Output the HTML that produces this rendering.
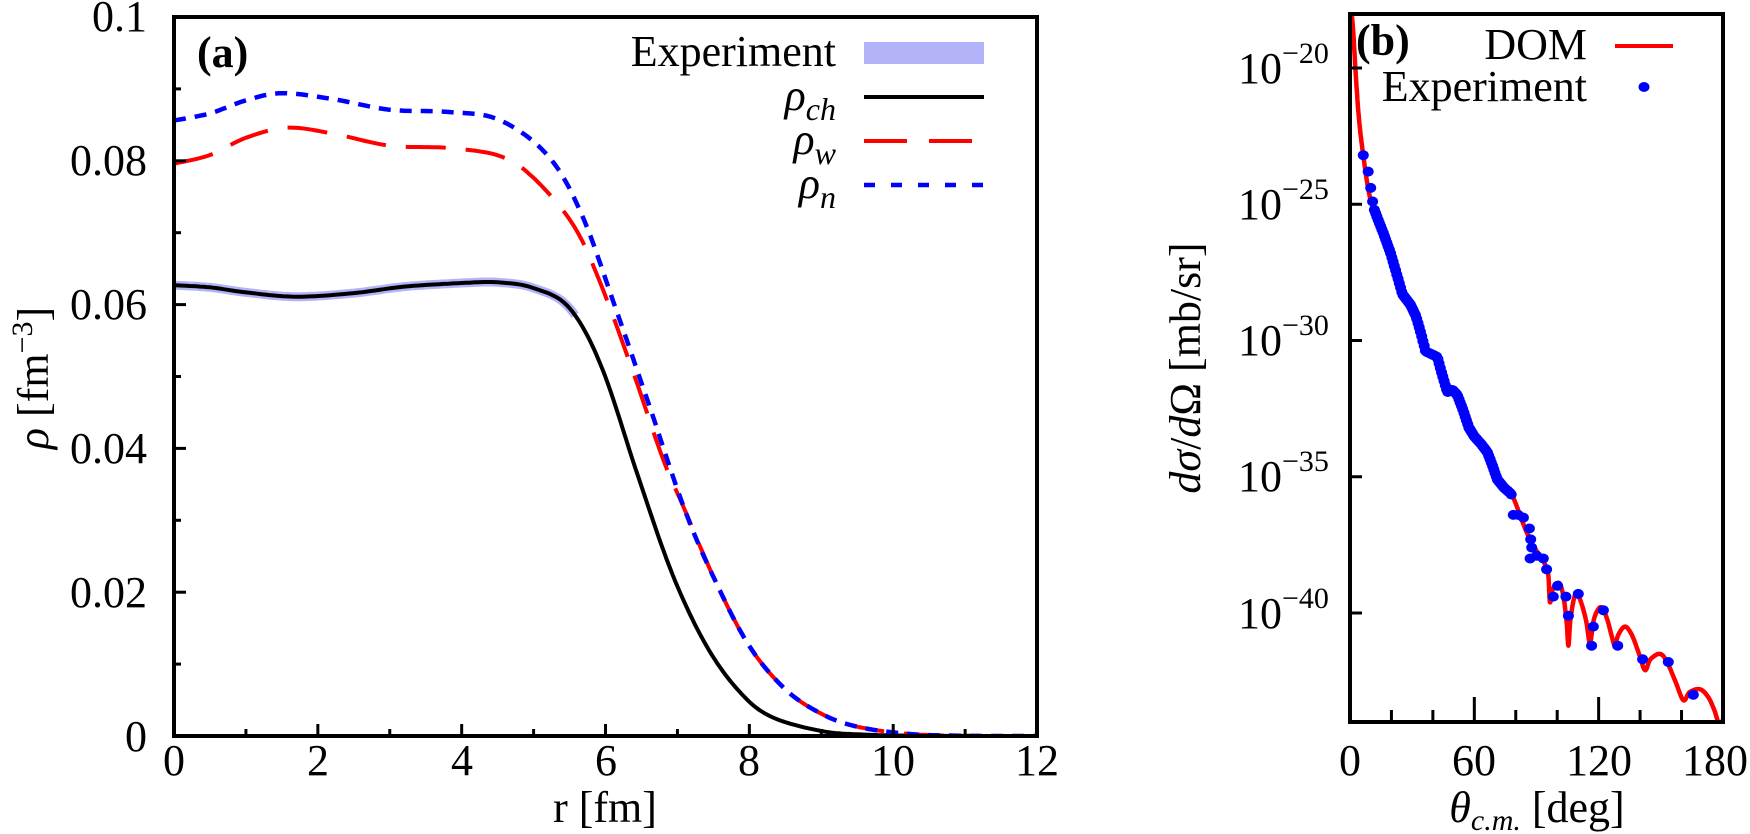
<!DOCTYPE html>
<html><head><meta charset="utf-8">
<style>
html,body{margin:0;padding:0;background:#fff;}
svg{display:block;}
text{font-family:"Liberation Serif","DejaVu Serif",serif;fill:#000;}
</style></head>
<body>
<svg id="s" width="1750" height="834" viewBox="0 0 1750 834" xmlns="http://www.w3.org/2000/svg">
<defs>
<clipPath id="ca"><rect x="174" y="17" width="863" height="719"/></clipPath>
<clipPath id="cb"><rect x="1350" y="14" width="373" height="708"/></clipPath>
</defs>
<g id="pa" clip-path="url(#ca)"></g>
<g id="pb" clip-path="url(#cb)"></g>
<g id="ticks" stroke="#000" stroke-width="3"></g>
<rect x="174" y="17" width="863" height="719" fill="none" stroke="#000" stroke-width="4"/>
<rect x="1350" y="14" width="373" height="708" fill="none" stroke="#000" stroke-width="4"/>

<g font-size="44" text-anchor="end">
<text x="147" y="31">0.1</text>
<text x="147" y="175">0.08</text>
<text x="147" y="319">0.06</text>
<text x="147" y="463">0.04</text>
<text x="147" y="607">0.02</text>
<text x="147" y="751">0</text>
</g>
<g font-size="44" text-anchor="middle">
<text x="174" y="775">0</text>
<text x="318" y="775">2</text>
<text x="462" y="775">4</text>
<text x="606" y="775">6</text>
<text x="749" y="775">8</text>
<text x="893" y="775">10</text>
<text x="1037" y="775">12</text>
<text x="605" y="822">r [fm]</text>
</g>
<text transform="translate(48,378) rotate(-90)" font-size="44" text-anchor="middle"><tspan font-style="italic">ρ</tspan> [fm<tspan font-size="30" dy="-16">−3</tspan><tspan dy="16">]</tspan></text>
<text x="197" y="67" font-size="44" font-weight="bold">(a)</text>
<g font-size="44" text-anchor="end">
<text x="836" y="66">Experiment</text>
<text x="836" y="110" font-style="italic">ρ<tspan font-size="32" dy="10">ch</tspan></text>
<text x="836" y="154" font-style="italic">ρ<tspan font-size="32" dy="10">w</tspan></text>
<text x="836" y="198" font-style="italic">ρ<tspan font-size="32" dy="10">n</tspan></text>
</g>
<rect x="864" y="42" width="120" height="22" fill="#b3b3fa"/>
<line x1="864" y1="97" x2="984" y2="97" stroke="#000" stroke-width="4"/>
<line x1="864" y1="141" x2="984" y2="141" stroke="#f00" stroke-width="4" stroke-dasharray="43,22"/>
<line x1="864" y1="185" x2="984" y2="185" stroke="#00f" stroke-width="4.5" stroke-dasharray="11,16"/>

<g font-size="44" text-anchor="start">
<text x="1238" y="83">10<tspan font-size="30" dy="-20">−20</tspan></text>
<text x="1238" y="219">10<tspan font-size="30" dy="-20">−25</tspan></text>
<text x="1238" y="355">10<tspan font-size="30" dy="-20">−30</tspan></text>
<text x="1238" y="491">10<tspan font-size="30" dy="-20">−35</tspan></text>
<text x="1238" y="628">10<tspan font-size="30" dy="-20">−40</tspan></text>
</g>
<g font-size="44" text-anchor="middle">
<text x="1350" y="775">0</text>
<text x="1474" y="775">60</text>
<text x="1599" y="775">120</text>
<text x="1748" y="775" text-anchor="end">180</text>
<text x="1537" y="822"><tspan font-style="italic">θ</tspan><tspan font-size="30" dy="8" font-style="italic">c.m.</tspan><tspan dy="-8"> [deg]</tspan></text>
</g>
<text transform="translate(1200,368) rotate(-90)" font-size="44" text-anchor="middle"><tspan font-style="italic">dσ</tspan>/<tspan font-style="italic">d</tspan>Ω [mb/sr]</text>
<text x="1356" y="55" font-size="44" font-weight="bold">(b)</text>
<text x="1587" y="59" font-size="44" text-anchor="end">DOM</text>
<text x="1587" y="101" font-size="44" text-anchor="end">Experiment</text>
<line x1="1615" y1="46" x2="1673" y2="46" stroke="#f00" stroke-width="4"/>
<ellipse cx="1644" cy="87" rx="5.5" ry="5" fill="#00f"/>
</svg>
<script>
(function(){
var NS="http://www.w3.org/2000/svg";
function el(p,t,a){var e=document.createElementNS(NS,t);for(var k in a)e.setAttribute(k,a[k]);p.appendChild(e);return e;}
function cr(pts,n){
 var out=[];
 for(var i=0;i<pts.length-1;i++){
  var p0=pts[Math.max(i-1,0)],p1=pts[i],p2=pts[i+1],p3=pts[Math.min(i+2,pts.length-1)];
  for(var j=0;j<n;j++){var t=j/n,t2=t*t,t3=t2*t;
   var f=function(a,b,c,d){return 0.5*((2*b)+(-a+c)*t+(2*a-5*b+4*c-d)*t2+(-a+3*b-3*c+d)*t3);};
   out.push([f(p0[0],p1[0],p2[0],p3[0]),f(p0[1],p1[1],p2[1],p3[1])]);}
 }
 out.push(pts[pts.length-1]);return out;}
function path(pts){return "M"+pts.map(function(p){return p[0].toFixed(1)+","+p[1].toFixed(1)}).join("L");}
var XA=function(r){return 174+r*71.92;}, YA=function(v){return 736-v*7190;};
function mapA(k){return k.map(function(p){return [XA(p[0]),YA(p[1])];});}
var ch=[[0,.0627],[0.5,.0624],[1,.0617],[1.7,.0611],[2.5,.0616],[3.2,.0625],[4,.063],[4.5,.0631],[5,.0623],[5.5,.0595],[5.95,.0512],[6.45,.0362],[6.93,.0225],[7.4,.0126],[7.86,.0062],[8.3,.0027],[9,.0007],[9.6,.0002],[10.5,.00003],[12,0]];
var w=[[0,.0796],[0.5,.0808],[1,.0832],[1.57,.0846],[2.2,.0838],[3,.0821],[3.8,.0818],[4.52,.0807],[4.98,.0778],[5.53,.0714],[5.9,.0637],[6.37,.0510],[6.8,.0385],[7.1,.0315],[7.53,.0215],[8,.0125],[8.5,.0065],[9,.0031],[9.5,.0013],[10.2,.0003],[11,.00003],[12,0]];
var n=[[0,.0856],[0.5,.0866],[1,.0884],[1.5,.0894],[2.2,.0886],[3,.0871],[3.8,.0868],[4.52,.0857],[5.2,.0807],[5.67,.0725],[6.14,.0595],[6.6,.0462],[7.1,.0315],[7.53,.0215],[8,.0125],[8.5,.0065],[9,.0031],[9.5,.0013],[10.2,.0003],[11,.00003],[12,0]];
var pa=document.getElementById("pa");
var chp=cr(mapA(ch),12);
el(pa,"path",{d:path(chp.filter(function(p){return p[0]<XA(5.6);})),fill:"none",stroke:"#b3b3fa","stroke-width":9});
el(pa,"path",{d:path(chp),fill:"none",stroke:"#000","stroke-width":4});
el(pa,"path",{d:path(cr(mapA(w),12)),fill:"none",stroke:"#f00","stroke-width":4,"stroke-dasharray":"40,20"});
el(pa,"path",{d:path(cr(mapA(n),12)),fill:"none",stroke:"#00f","stroke-width":4.5,"stroke-dasharray":"12,9"});
var XB=function(t){return 1350+t*2.072;}, YB=function(l){return 68-(l+20)*27.25;};
var dom=[[0.3,-17.9],[1.3,-18.4],[3,-20.5],[4.5,-22],[6.4,-23.2],[8.5,-24.3],[10.5,-25],[12.9,-25.5],[16,-26.1],[19.3,-26.8],[22,-27.5],[25,-28.3],[29,-28.7],[31.5,-29.1],[33.8,-29.7],[36.2,-30.4],[39,-30.5],[41.8,-30.6],[44,-31.2],[46.7,-31.9],[49,-31.8],[51.5,-32],[54,-32.5],[57.1,-33.2],[59.5,-33.5],[63,-33.8],[66,-34.1],[68.5,-34.6],[70.8,-35.1],[74,-35.4],[77,-35.6],[79,-35.8],[82,-36.4],[84.5,-36.9],[86.9,-37.3],[89,-37.6],[91.7,-37.9],[94,-38.2],[95.7,-38.6],[96.5,-39.6],[98,-39.1],[101,-38.9],[103,-39.4],[104.5,-40.3],[105.4,-41.2],[106.3,-40.3],[108,-39.5],[109.4,-39.3],[111.5,-39.6],[114,-40.3],[115.8,-41.1],[117.5,-40.3],[119.5,-39.9],[121.5,-39.8],[124,-40.2],[126.5,-40.9],[127.9,-41.2],[129.5,-40.8],[132.7,-40.5],[136,-40.8],[139.5,-41.5],[142.4,-42.1],[145,-41.7],[149.6,-41.5],[153,-41.8],[157,-42.5],[160.9,-43.2],[164,-42.9],[169,-42.8],[173,-43.1],[176,-43.6],[178.6,-44.2],[180,-43.9]];
var pb=document.getElementById("pb");
var dp=cr(dom.map(function(p){return [XB(p[0]),YB(p[1])];}),10);
el(pb,"path",{d:path(dp),fill:"none",stroke:"#f00","stroke-width":4.5,"stroke-linejoin":"round"});
function interp(t){for(var i=0;i<dom.length-1;i++){if(t>=dom[i][0]&&t<=dom[i+1][0]){var f=(t-dom[i][0])/(dom[i+1][0]-dom[i][0]);return dom[i][1]+f*(dom[i+1][1]-dom[i][1]);}}return -44;}
var dots=[[6.4,-23.2],[8.8,-23.8],[10,-24.4],[10.9,-24.9],[78.8,-36.4],[81.2,-36.4],[83.7,-36.5],[86.6,-36.9],[87.2,-37.3],[87.7,-37.6],[86.9,-38],[90.1,-37.9],[93.3,-38],[94.9,-38.4],[98.1,-39.4],[100.2,-39],[104.2,-39.4],[105.4,-40.1],[110.2,-39.3],[116.6,-41.2],[117.4,-40.5],[122.3,-39.9],[129.2,-41.2],[141.2,-41.7],[153.6,-41.8],[165.7,-43]];
for(var t=11.5;t<=78;t+=0.6){dots.push([t+0.3,interp(t)]);}
dots.forEach(function(p){el(pb,"ellipse",{cx:XB(p[0]).toFixed(1),cy:YB(p[1]).toFixed(1),rx:5.5,ry:5,fill:"#00f"});});
var tk=document.getElementById("ticks");
for(var r=1;r<12;r++){var L=(r%2==0)?12:7;el(tk,"line",{x1:XA(r),y1:736,x2:XA(r),y2:736-L});}
for(var i=1;i<10;i++){var L=(i%2==0)?12:7;var y=YA(i*0.01);el(tk,"line",{x1:174,y1:y,x2:174+L,y2:y});}
for(var d=20;d<180;d+=20){var L=(d%60==0)?25:12;el(tk,"line",{x1:XB(d),y1:722,x2:XB(d),y2:722-L});}
for(var e=-20;e>=-40;e-=5){var y=YB(e);el(tk,"line",{x1:1350,y1:y,x2:1362,y2:y});}
})();
</script>
</body></html>
